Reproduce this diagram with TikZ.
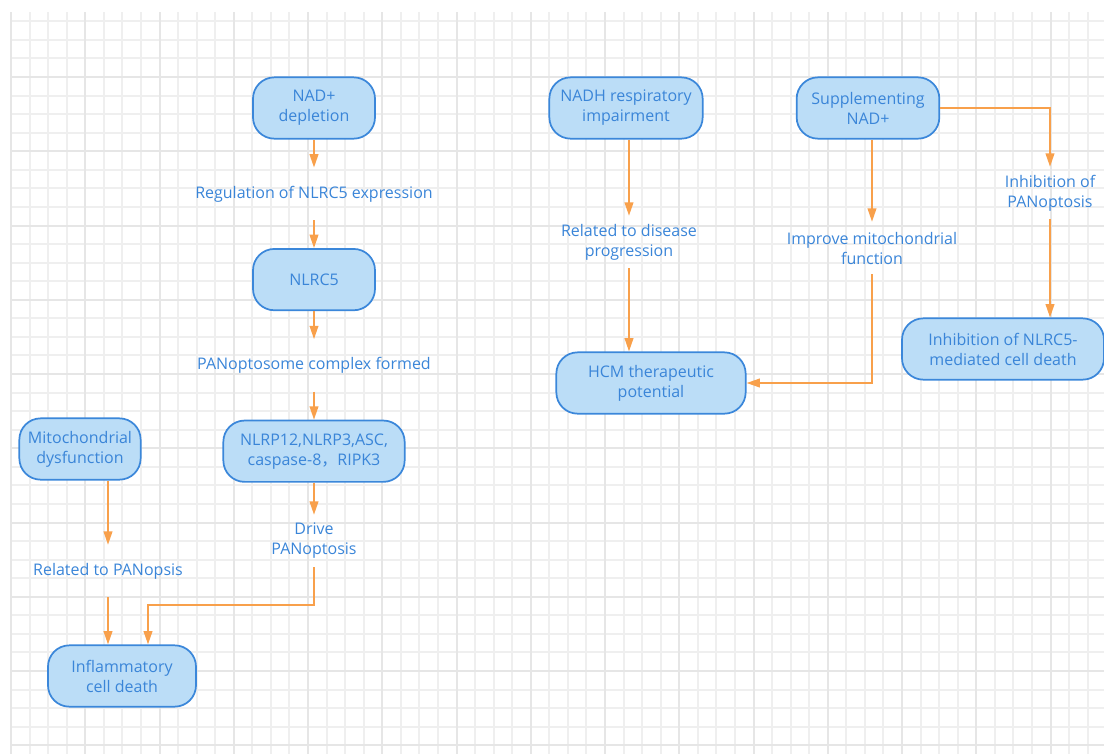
\documentclass[tikz,border=0pt]{standalone}
\usepackage{fontspec}
\setmainfont{Open Sans}
\newfontfamily\cjk{Noto Sans CJK SC}
\usetikzlibrary{arrows.meta, positioning, calc}

\definecolor{boxfill}{HTML}{BBDDF7}
\definecolor{boxline}{HTML}{3B87DA}
\definecolor{txtblue}{HTML}{3A85D8}
\definecolor{arrorange}{HTML}{F8A04B}
\definecolor{gridminor}{HTML}{EFEFEF}
\definecolor{gridmajor}{HTML}{E6E6E6}

\begin{document}
\begin{tikzpicture}[
		x=0.75pt, y=-0.75pt,
		node distance=21pt,
		box/.style={rectangle, draw=boxline, line width=1.3pt, rounded corners=16pt, fill=boxfill, minimum height=46pt, inner sep=2pt, align=center, text=txtblue, font=\fontsize{12}{15}\selectfont},
		lbl/.style={minimum height=39pt, inner sep=1pt, align=center, text=txtblue, font=\fontsize{12}{15}\selectfont},
		arrow/.style={-{Triangle[length=10pt, width=6.5pt]}, draw=arrorange, line width=1.3pt}
		]
		\useasboundingbox (0,0) rectangle (1104,754);
		% background grid
		\begin{scope}
			\clip (10,12) rectangle (1104,754);
			\foreach \i in {0,...,59} {
				\pgfmathsetmacro{\gx}{round(11+18.5625*\i)}
				\draw[gridminor, line width=0.9pt] (\gx,12) -- (\gx,754);
			}
			\foreach \j in {0,...,41} {
				\pgfmathsetmacro{\gy}{round(2.75+18.5625*\j)}
				\draw[gridminor, line width=0.9pt] (10,\gy) -- (1104,\gy);
			}
			\foreach \i in {0,...,14} {
				\pgfmathsetmacro{\gx}{round(11+74.25*\i)}
				\draw[gridmajor, line width=1.4pt] (\gx,12) -- (\gx,754);
			}
			\foreach \j in {0,...,10} {
				\pgfmathsetmacro{\gy}{round(2.75+74.25*\j)}
				\draw[gridmajor, line width=1.4pt] (10,\gy) -- (1104,\gy);
			}
		\end{scope}

		% NAD+ depletion chain
		\node[box, minimum width=91.5pt] (nad) at (314,108) {NAD+\\depletion};
		\node[lbl, below=of nad] (reg) {Regulation of NLRC5 expression};
		\node[box, minimum width=91.5pt, below=of reg] (nlrc5) {NLRC5};
		\node[lbl, below=of nlrc5] (pcf) {PANoptosome complex formed};
		\node[box, minimum width=136pt, below=of pcf] (nlrp) {NLRP12,NLRP3,ASC,\\caspase-8{\cjk ，}RIPK3};
		\node[lbl, below=24pt of nlrp] (drive) {Drive\\PANoptosis};

		\node[box, minimum width=91pt] (mito) at (80,449) {Mitochondrial\\dysfunction};
		\node[lbl] (relpan) at (108,571) {Related to PANopsis};
		\node[box, minimum width=111pt] (infl) at (122,676) {Inflammatory\\cell death};

		% NADH and NAD+ supplementation
		\node[box, minimum width=115pt] (nadh) at (626,108) {NADH respiratory\\impairment};
		\node[lbl] (dis) at (629,242) {Related to disease\\progression};
		\node[box, minimum width=142pt] (hcm) at (651,383) {HCM therapeutic\\potential};
		\node[box, minimum width=107pt] (sup) at (868,108) {Supplementing\\NAD+};
		\node[lbl] (imp) at (872,248) {Improve mitochondrial\\function};
		\node[lbl] (inhp) at (1050,193) {Inhibition of\\PANoptosis};
		\node[box, minimum width=151.5pt] (inh) at (1003,349) {Inhibition of NLRC5-\\mediated cell death};

		\draw[arrow] (nad) -- (reg);
		\draw[arrow] (reg) -- (nlrc5);
		\draw[arrow] (nlrc5) -- (pcf);
		\draw[arrow] (pcf) -- (nlrp);
		\draw[arrow] (nlrp) -- (drive);
		\draw[arrow] (drive.south) -- ++(0,38) -| ($(infl.north)+(26,0)$);
		\draw[arrow] (relpan.north |- mito.south) -- (relpan);
		\draw[arrow] (relpan) -- (relpan.south |- infl.north);

		\draw[arrow] (dis.north |- nadh.south) -- (dis);
		\draw[arrow] (dis) -- (dis.south |- hcm.north);
		\draw[arrow] (imp.north |- sup.south) -- (imp);
		\draw[arrow] (imp.south) |- (hcm.east);
		\draw[arrow] (sup.east) -| (inhp);
		\draw[arrow] (inhp) -- (inhp.south |- inh.north);
	\end{tikzpicture}
\end{document}
